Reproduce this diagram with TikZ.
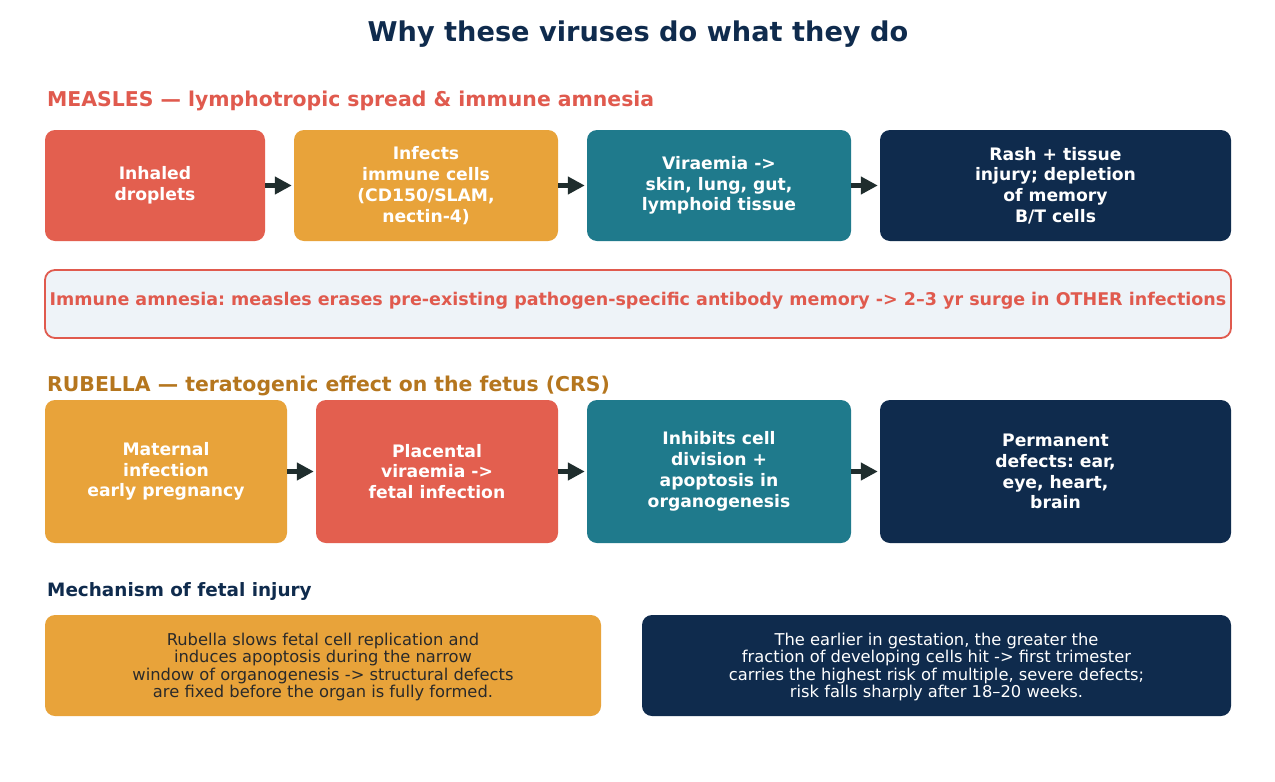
\documentclass[tikz,border=0pt]{standalone}
\usepackage{fontspec}
\setmainfont{DejaVu Sans}
\frenchspacing
\usetikzlibrary{arrows.meta}
\definecolor{cred}{HTML}{E35F4F}
\definecolor{corange}{HTML}{E8A33A}
\definecolor{cteal}{HTML}{1F7A8C}
\definecolor{cnavy}{HTML}{0F2B4D}
\definecolor{carrow}{HTML}{1F2D2D}
\definecolor{cpale}{HTML}{EEF3F8}
\definecolor{cmeas}{HTML}{E05A4E}
\definecolor{crub}{HTML}{B5761E}
\definecolor{cdark}{HTML}{2A2A2A}
\tikzset{
  flowbox/.style={rounded corners=10pt, inner sep=0pt, align=center, text=white,
    font=\fontsize{17.2}{20.8}\selectfont\bfseries},
  notebox/.style={rounded corners=10pt, inner sep=0pt, align=center,
    font=\fontsize{16.3}{17.3}\selectfont},
  heading/.style={anchor=base west, inner sep=0pt, font=\fontsize{20.4}{24}\selectfont\bfseries},
  flowarrow/.style={draw=carrow, line width=5pt, -{Triangle[length=17pt,width=17pt]}, shorten >=2pt}
}
\begin{document}
\begin{tikzpicture}[x=1pt,y=-1pt]
\useasboundingbox[fill=white] (0,0) rectangle (1275,782);
\node[anchor=base, inner sep=0pt, text=cnavy, font=\fontsize{27.2}{30}\selectfont\bfseries] (title) at (638,41) {Why these viruses do what they do};
\node[heading, text=cmeas] (mh) at (47,106) {MEASLES — lymphotropic spread \& immune amnesia};
\node[flowbox, fill=cred, minimum width=220pt, minimum height=111pt] (m1) at (155,185.5) {Inhaled\\droplets};
\node[flowbox, fill=corange, minimum width=264pt, minimum height=111pt] (m2) at (426,185.5) {Infects\\immune cells\\(CD150/SLAM,\\nectin-4)};
\node[flowbox, fill=cteal, minimum width=264pt, minimum height=111pt] (m3) at (719,185.5) {Viraemia ->\\skin, lung, gut,\\lymphoid tissue};
\node[flowbox, fill=cnavy, minimum width=351pt, minimum height=111pt] (m4) at (1055.5,185.5) {Rash + tissue\\injury; depletion\\of memory\\B/T cells};
\draw[flowarrow] (m1) -- (m2);
\draw[flowarrow] (m2) -- (m3);
\draw[flowarrow] (m3) -- (m4);
\node[draw=cmeas, line width=1.8pt, fill=cpale, rounded corners=10pt, minimum width=1186pt, minimum height=68pt, inner sep=0pt] (amn) at (638,304) {};
\node[anchor=base, inner sep=0pt, text=cmeas, font=\fontsize{17.5}{20}\selectfont\bfseries] (amntext) at (638,305.5) {Immune amnesia: measles erases pre-existing pathogen-specific antibody memory -> 2–3 yr surge in OTHER infections};
\node[heading, text=crub] (rh) at (47,391) {RUBELLA — teratogenic effect on the fetus (CRS)};
\node[flowbox, fill=corange, minimum width=242pt, minimum height=143pt] (r1) at (166,471.5) {Maternal\\infection\\early pregnancy};
\node[flowbox, fill=cred, minimum width=242pt, minimum height=143pt] (r2) at (437,471.5) {Placental\\viraemia ->\\fetal infection};
\node[flowbox, fill=cteal, minimum width=264pt, minimum height=143pt] (r3) at (719,471.5) {Inhibits cell\\division +\\apoptosis in\\organogenesis};
\node[flowbox, fill=cnavy, minimum width=351pt, minimum height=143pt] (r4) at (1055.5,471.5) {Permanent\\defects: ear,\\eye, heart,\\brain};
\draw[flowarrow] (r1) -- (r2);
\draw[flowarrow] (r2) -- (r3);
\draw[flowarrow] (r3) -- (r4);
\node[anchor=base west, inner sep=0pt, text=cnavy, font=\fontsize{18.4}{20}\selectfont\bfseries] (mech) at (47,596) {Mechanism of fetal injury};
\node[notebox, fill=corange, minimum width=556pt, minimum height=101pt] (b1) at (323,665.5) {};
\node[notebox, text=cdark] (b1text) at (323,667) {Rubella slows fetal cell replication and\\induces apoptosis during the narrow\\window of organogenesis -> structural defects\\are fixed before the organ is fully formed.};
\node[notebox, fill=cnavy, minimum width=589pt, minimum height=101pt] (b2) at (936.5,665.5) {};
\node[notebox, text=white] (b2text) at (936.5,667) {The earlier in gestation, the greater the\\fraction of developing cells hit -> first trimester\\carries the highest risk of multiple, severe defects;\\risk falls sharply after 18–20 weeks.};
\end{tikzpicture}
\end{document}
